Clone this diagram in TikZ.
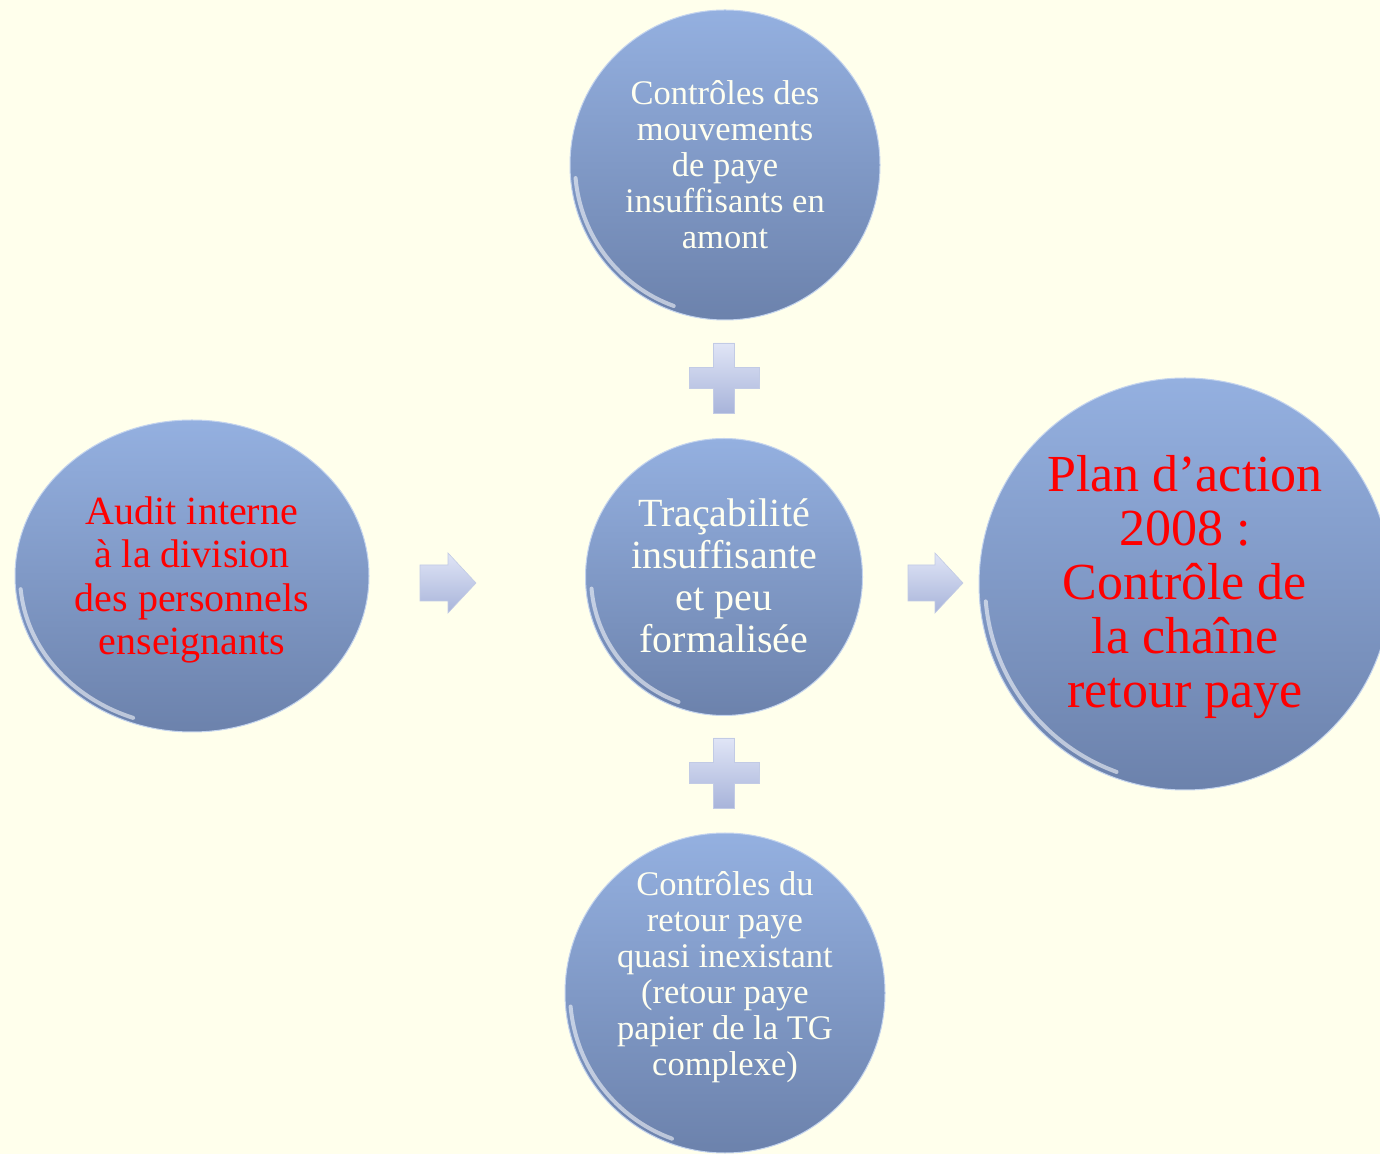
\documentclass[tikz,border=0pt]{standalone}
\usepackage{fontspec}
\setmainfont{Liberation Serif}
\usetikzlibrary{shapes.geometric}

\definecolor{bg}{RGB}{255,255,236}
\definecolor{ballTop}{RGB}{148,176,224}
\definecolor{ballBot}{RGB}{108,130,172}
\definecolor{cream}{RGB}{255,255,240}
\definecolor{markTop}{RGB}{224,229,246}
\definecolor{markBot}{RGB}{168,180,218}

\tikzset{
  ball/.style={ellipse, inner sep=0pt, top color=ballTop, bottom color=ballBot,
               draw=ballTop!55!white, line width=1pt},
  note/.style={text=cream, align=center},
  key/.style={text=red, align=center},
  shine/.style={white, opacity=0.55, line width=4pt, line cap=round},
  glyph/.style={top color=markTop, bottom color=markBot, draw=markBot!70!white, line width=0.6pt},
}

\begin{document}
\begin{tikzpicture}[x=1pt,y=1pt]
  % page and background
  \useasboundingbox (0,0) rectangle (1380,1154);
  \clip (0,0) rectangle (1380,1154);
  \fill[bg] (0,0) rectangle (1380,1154);

  % the five balls
  \node[ball, minimum width=310pt, minimum height=310pt] (top) at (725,989) {};
  \node[ball, minimum width=277pt, minimum height=277pt] (mid) at (724,577) {};
  \node[ball, minimum width=354pt, minimum height=312pt] (left) at (192,578) {};
  \node[ball, minimum width=412pt, minimum height=412pt] (right) at (1185,570) {};
  \node[ball, minimum width=320pt, minimum height=320pt] (bot) at (725,161) {};

  % glossy rim on the lower left of each ball
  \draw[shine] ([shift={(185:150 and 150)}]top.center) arc[start angle=185, end angle=250, x radius=150, y radius=150];
  \draw[shine] ([shift={(185:133 and 133)}]mid.center) arc[start angle=185, end angle=250, x radius=133, y radius=133];
  \draw[shine] ([shift={(185:172 and 151)}]left.center) arc[start angle=185, end angle=250, x radius=172, y radius=151];
  \draw[shine] ([shift={(185:200 and 200)}]right.center) arc[start angle=185, end angle=250, x radius=200, y radius=200];
  \draw[shine] ([shift={(185:155 and 155)}]bot.center) arc[start angle=185, end angle=250, x radius=155, y radius=155];

  % texts
  \node[note, font=\fontsize{34.5}{36}\selectfont] (topT) at (725,989)
    {Contrôles des\\mouvements\\de paye\\insuffisants en\\amont};
  \node[note, font=\fontsize{40}{42}\selectfont] (midT) at (724,578)
    {Traçabilité\\insuffisante\\et peu\\formalisée};
  \node[key, font=\fontsize{40}{43.5}\selectfont] (leftT) at (192,574)
    {Audit interne\\à la division\\des personnels\\enseignants};
  \node[key, font=\fontsize{52}{54}\selectfont] (rightT) at (1185,566.5)
    {Plan d’action\\2008 :\\Contrôle de\\la chaîne\\retour paye};
  \node[note, font=\fontsize{34.5}{36}\selectfont] (botT) at (725,176.5)
    {Contrôles du\\retour paye\\quasi inexistant\\(retour paye\\papier de la TG\\complexe)};

  % block arrows
  \path[glyph] (420,553) -- (448,553) -- (448,541) -- (476,571) -- (448,601)
              -- (448,589) -- (420,589) -- cycle;
  \path[glyph] (908,553) -- (935,553) -- (935,541) -- (963,571) -- (935,601)
              -- (935,589) -- (908,589) -- cycle;

  % plus signs
  \path[glyph] (713.5,741) -- (734.5,741) -- (734.5,765.5) -- (759,765.5) -- (759,786.5)
              -- (734.5,786.5) -- (734.5,811) -- (713.5,811) -- (713.5,786.5)
              -- (689,786.5) -- (689,765.5) -- (713.5,765.5) -- cycle;
  \path[glyph] (713.5,346) -- (734.5,346) -- (734.5,370.5) -- (759,370.5) -- (759,391.5)
              -- (734.5,391.5) -- (734.5,416) -- (713.5,416) -- (713.5,391.5)
              -- (689,391.5) -- (689,370.5) -- (713.5,370.5) -- cycle;
\end{tikzpicture}
\end{document}
